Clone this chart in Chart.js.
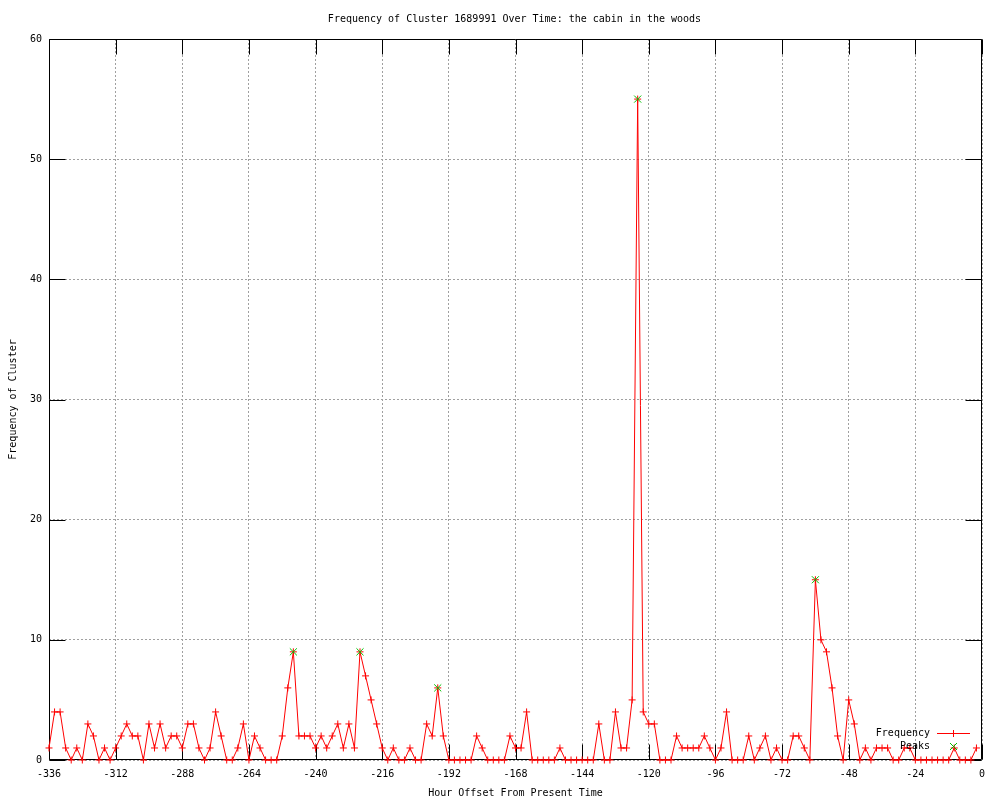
<!DOCTYPE html>
<html>
<head>
<meta charset="utf-8">
<script src="https://cdn.jsdelivr.net/npm/chart.js@4.4.1/dist/chart.umd.min.js"></script>
<style>
html,body{margin:0;padding:0;background:#ffffff;}
canvas{display:block;}
</style>
</head>
<body>
<canvas id="c" width="1000" height="800"></canvas>
<script>
const titleText = "Frequency of Cluster 1689991 Over Time: the cabin in the woods";
const xAxisTitle = "Hour Offset From Present Time";
const yAxisTitle = "Frequency of Cluster";

const hours = [
  -336,-334,-332,-330,-328,-326,-324,-322,-320,-318,-316,-314,
  -312,-310,-308,-306,-304,-302,-300,-298,-296,-294,-292,-290,
  -288,-286,-284,-282,-280,-278,-276,-274,-272,-270,-268,-266,
  -264,-262,-260,-258,-256,-254,-252,-250,-248,-246,-244,-242,
  -240,-238,-236,-234,-232,-230,-228,-226,-224,-222,-220,-218,
  -216,-214,-212,-210,-208,-206,-204,-202,-200,-198,-196,-194,
  -192,-190,-188,-186,-184,-182,-180,-178,-176,-174,-172,-170,
  -168,-166,-164,-162,-160,-158,-156,-154,-152,-150,-148,-146,
  -144,-142,-140,-138,-136,-134,-132,-130,-128,-126,-124,-122,
  -120,-118,-116,-114,-112,-110,-108,-106,-104,-102,-100,-98,
  -96,-94,-92,-90,-88,-86,-84,-82,-80,-78,-76,-74,
  -72,-70,-68,-66,-64,-62,-60,-58,-56,-54,-52,-50,
  -48,-46,-44,-42,-40,-38,-36,-34,-32,-30,-28,-26,
  -24,-22,-20,-18,-16,-14,-12,-10,-8,-6,-4,-2
];
const frequency = [
  1,4,4,1,0,1,0,3,2,0,1,0,
  1,2,3,2,2,0,3,1,3,1,2,2,
  1,3,3,1,0,1,4,2,0,0,1,3,
  0,2,1,0,0,0,2,6,9,2,2,2,
  1,2,1,2,3,1,3,1,9,7,5,3,
  1,0,1,0,0,1,0,0,3,2,6,2,
  0,0,0,0,0,2,1,0,0,0,0,2,
  1,1,4,0,0,0,0,0,1,0,0,0,
  0,0,0,3,0,0,4,1,1,5,55,4,
  3,3,0,0,0,2,1,1,1,1,2,1,
  0,1,4,0,0,0,2,0,1,2,0,1,
  0,0,2,2,1,0,15,10,9,6,2,0,
  5,3,0,1,0,1,1,1,0,0,1,1,
  0,0,0,0,0,0,0,1,0,0,0,1
];
const peakHours = [-248, -224, -196, -124, -60];
const peakValues = [9, 9, 6, 55, 15];
const xTickValues = [-336,-312,-288,-264,-240,-216,-192,-168,-144,-120,-96,-72,-48,-24,0];
const yTickValues = [0,10,20,30,40,50,60];
const seriesNames = ["Frequency", "Peaks"];

const FONT = "'DejaVu Sans Mono', 'Liberation Mono', monospace";
const RED = "#ff0000";
const GREEN = "#00c000";

Chart.defaults.font.family = FONT;
Chart.defaults.font.size = 10;
Chart.defaults.color = "#000000";

const frameAndTicks = {
  id: "frameAndTicks",
  beforeDatasetsDraw(chart) {
    const {ctx, chartArea: a, scales} = chart;
    ctx.save();
    ctx.strokeStyle = "#000000";
    ctx.lineWidth = 1;
    ctx.setLineDash([]);
    ctx.beginPath();
    const L = Math.round(a.left) + 0.5, R = Math.round(a.right) - 0.5;
    const T = Math.round(a.top) + 0.5, B = Math.round(a.bottom) - 0.5;
    ctx.rect(L, T, R - L, B - T);
    const xl = 15, yl = 16;
    scales.x.ticks.forEach(t => {
      const px = Math.round(scales.x.getPixelForValue(t.value)) + 0.5;
      ctx.moveTo(px, B); ctx.lineTo(px, B - xl);
      ctx.moveTo(px, T); ctx.lineTo(px, T + xl);
    });
    scales.y.ticks.forEach(t => {
      const py = Math.round(scales.y.getPixelForValue(t.value)) + 0.5;
      ctx.moveTo(L, py); ctx.lineTo(L + yl, py);
      ctx.moveTo(R, py); ctx.lineTo(R - yl, py);
    });
    ctx.stroke();
    ctx.restore();
  },
  afterDraw(chart) {
    const {ctx, chartArea: a} = chart;
    ctx.save();
    ctx.font = "10px " + FONT;
    ctx.fillStyle = "#000000";
    ctx.textAlign = "center";
    ctx.textBaseline = "middle";
    ctx.fillText(titleText, (a.left + a.right) / 2 - 1, 19);
    ctx.textAlign = "right";
    const tx = 930, y1 = 733, y2 = 746, mx = 953;
    ctx.fillText(seriesNames[0], tx, y1);
    ctx.fillText(seriesNames[1], tx, y2);
    ctx.fillStyle = RED;
    ctx.fillRect(937, y1, 33, 1);
    ctx.fillRect(mx, y1 - 3, 1, 7);
    ctx.setLineDash([]);
    ctx.lineWidth = 1;
    ctx.strokeStyle = GREEN;
    ctx.beginPath();
    const d = 3.5, cx = mx + 0.5, cy = y2 + 0.5;
    ctx.moveTo(cx - d, cy - d); ctx.lineTo(cx + d, cy + d);
    ctx.moveTo(cx - d, cy + d); ctx.lineTo(cx + d, cy - d);
    ctx.stroke();
    ctx.restore();
  }
};

new Chart(document.getElementById("c"), {
  type: "line",
  data: {
    datasets: [
      {
        label: seriesNames[1],
        data: peakHours.map((h, i) => ({x: h, y: peakValues[i]})),
        showLine: false,
        pointStyle: "crossRot",
        pointRadius: 5,
        pointBorderColor: GREEN,
        pointBackgroundColor: GREEN,
        pointBorderWidth: 1,
        borderColor: GREEN,
        clip: false
      },
      {
        label: seriesNames[0],
        data: hours.map((h, i) => ({x: h, y: frequency[i]})),
        borderColor: RED,
        borderWidth: 1,
        tension: 0,
        fill: false,
        pointStyle: "cross",
        pointRadius: 3.5,
        pointBorderColor: RED,
        pointBackgroundColor: RED,
        pointBorderWidth: 1,
        clip: false
      }
    ]
  },
  options: {
    responsive: false,
    animation: false,
    devicePixelRatio: 1,
    events: [],
    layout: {padding: {left: 0, right: 18, top: 39, bottom: 0}},
    plugins: {
      legend: {display: false},
      tooltip: {enabled: false},
      title: {display: false}
    },
    scales: {
      x: {
        type: "linear",
        min: -336,
        max: 0,
        afterBuildTicks: s => { s.ticks = xTickValues.map(v => ({value: v})); },
        afterFit: s => { s.height = 40; },
        ticks: {autoSkip: false, maxRotation: 0, padding: 8, color: "#000000", font: {family: FONT, size: 10}},
        grid: {color: "#a0a0a0", lineWidth: 1, drawTicks: false},
        border: {display: false, dash: [2, 2]},
        title: {display: true, text: xAxisTitle, color: "#000000", font: {family: FONT, size: 10}, padding: {top: 0, bottom: 1}}
      },
      y: {
        type: "linear",
        min: 0,
        max: 60,
        afterBuildTicks: s => { s.ticks = yTickValues.map(v => ({value: v})); },
        afterFit: s => { s.width = 49; },
        ticks: {padding: 7, color: "#000000", font: {family: FONT, size: 10}},
        grid: {color: "#a0a0a0", lineWidth: 1, drawTicks: false},
        border: {display: false, dash: [2, 2]},
        title: {display: true, text: yAxisTitle, color: "#000000", font: {family: FONT, size: 10}, padding: {top: 7, bottom: 0}}
      }
    }
  },
  plugins: [frameAndTicks]
});
</script>
</body>
</html>
